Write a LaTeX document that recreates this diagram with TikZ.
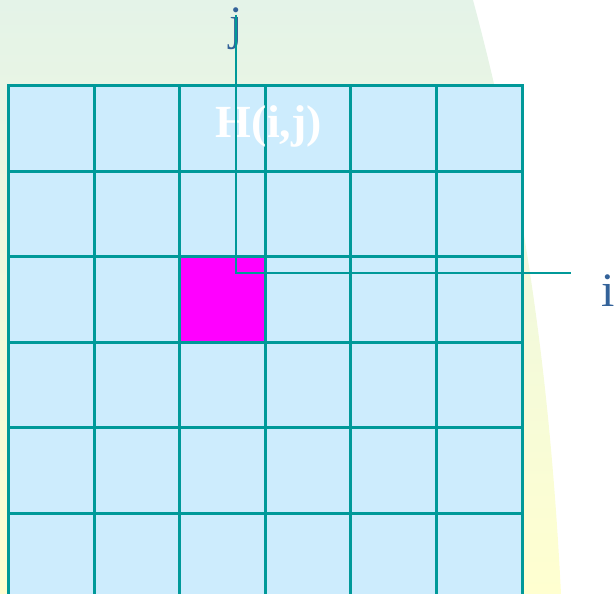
\documentclass[tikz,border=0pt]{standalone}
\usepackage{fontspec}
\setmainfont{Liberation Serif}
\usetikzlibrary{positioning}

\definecolor{gridline}{RGB}{0,153,153}
\definecolor{cellfill}{RGB}{205,236,253}
\definecolor{hotpink}{RGB}{255,0,255}
\definecolor{labelblue}{RGB}{51,98,153}
\definecolor{bgtop}{RGB}{228,243,232}
\definecolor{bgbottom}{RGB}{255,255,208}

\begin{document}
\begin{tikzpicture}[
  x=1pt, y=-1pt,
  cell/.style={
    rectangle,
    draw=gridline,
    fill=cellfill,
    line width=3pt,
    minimum size=85.6pt,
    inner sep=0pt,
    anchor=north west
  },
  hotcell/.style={cell, fill=hotpink},
  axis/.style={draw=gridline, line width=2pt},
  axislabel/.style={text=labelblue, font=\fontsize{48}{52}\selectfont, inner sep=0pt, anchor=base west}
]
  \useasboundingbox (0,0) rectangle (614,594);

  % background
  \shade[top color=bgtop, bottom color=bgbottom]
    (0,0) -- (473,0) .. controls (527,200) and (551,394) .. (561,594) -- (0,594) -- cycle;

  % the 6x6 grid
  \foreach \r in {0,...,5}
    \foreach \c in {0,...,5}
      \node[cell] (c-\r-\c) at (7+85.6*\c, 84+85.6*\r) {};
  \node[hotcell] (c-hot) at (c-2-2.north west) {};

  \node[font=\bfseries\fontsize{46}{50}\selectfont, text=white, inner sep=0pt, anchor=base]
    (hlabel) at (269,138) {H(i,j)};

  % axes
  \node[axislabel] (jlabel) at (229,40) {j};
  \node[axislabel] (ilabel) at (601,306) {i};
  \coordinate (jtop) at (236,15);
  \coordinate (iend) at (571,273);
  \draw[axis] (jtop) |- (iend);
\end{tikzpicture}
\end{document}
